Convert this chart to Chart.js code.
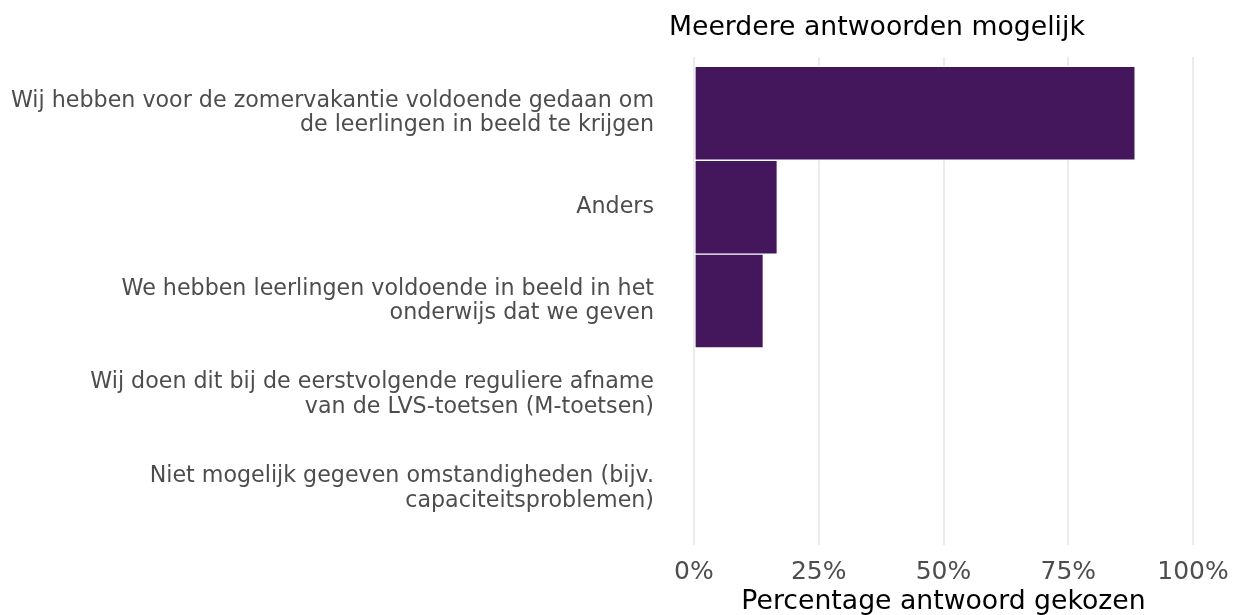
<!DOCTYPE html>
<html>
<head>
<meta charset="utf-8">
<script src="https://cdn.jsdelivr.net/npm/chart.js@4.4.1/dist/chart.umd.min.js"></script>
<style>
  html, body { margin: 0; padding: 0; background: #ffffff; }
  #wrap { width: 1241px; height: 615px; }
</style>
</head>
<body>
<div id="wrap"><canvas id="chart" width="1241" height="615"></canvas></div>
<script>
// --------- Données ----------
const categories = [
    ["Wij hebben voor de zomervakantie voldoende gedaan om", "de leerlingen in beeld te krijgen"],
    ["Anders"],
    ["We hebben leerlingen voldoende in beeld in het", "onderwijs dat we geven"],
    ["Wij doen dit bij de eerstvolgende reguliere afname", "van de LVS-toetsen (M-toetsen)"],
    ["Niet mogelijk gegeven omstandigheden (bijv.", "capaciteitsproblemen)"]
];
const percentages = [88.4, 16.7, 13.9, 0, 0];
const xTicks = [0, 25, 50, 75, 100];

const FONT = "'DejaVu Sans', Verdana, sans-serif";

// bars placed on a linear index axis so the ggplot-like 0.6 padding can be reproduced
const points = percentages.map((v, i) => ({ x: v, y: i }));

const ctx = document.getElementById("chart").getContext("2d");

new Chart(ctx, {
    type: "bar",
    data: {
        datasets: [{
            data: points,
            backgroundColor: "#44165c",
            borderColor: "#ffffff",
            borderWidth: 1,
            borderSkipped: false,
            barPercentage: 1,
            categoryPercentage: 1
        }]
    },
    options: {
        indexAxis: "y",
        responsive: false,
        animation: false,
        layout: { padding: { top: 4, right: 23, bottom: 0, left: 0 } },
        plugins: {
            legend: { display: false },
            tooltip: { enabled: false },
            title: {
                display: true,
                text: "Meerdere antwoorden mogelijk",
                align: "start",
                fullSize: false,
                color: "#000000",
                font: { family: FONT, size: 26.7, weight: "normal", lineHeight: 1.2 },
                padding: { top: 8, bottom: 13 }
            }
        },
        scales: {
            x: {
                type: "linear",
                min: -5,
                max: 105,
                afterBuildTicks: axis => { axis.ticks = xTicks.map(v => ({ value: v })); },
                afterFit: axis => {
                    axis.height = 70;
                    axis.paddingLeft = 0;
                    axis.paddingRight = 0;
                },
                grid: { color: "#ebebeb", lineWidth: 2, drawTicks: false },
                border: { display: false },
                ticks: {
                    color: "#4d4d4d",
                    font: { family: FONT, size: 25, lineHeight: 1.0 },
                    padding: 15,
                    maxRotation: 0,
                    callback: v => v + "%"
                },
                title: {
                    display: true,
                    text: "Percentage antwoord gekozen",
                    color: "#000000",
                    font: { family: FONT, size: 26.7, lineHeight: 1.2 },
                    padding: { top: 3, bottom: -3 }
                }
            },
            y: {
                type: "linear",
                reverse: true,
                offset: false,
                min: -0.6,
                max: 4.6,
                afterBuildTicks: axis => { axis.ticks = categories.map((c, i) => ({ value: i })); },
                afterFit: axis => { axis.width = 669; },
                grid: { display: false, drawTicks: false, offset: false },
                border: { display: false },
                ticks: {
                    color: "#4d4d4d",
                    font: { family: FONT, size: 22.2, lineHeight: 1.1 },
                    padding: 15,
                    autoSkip: false,
                    callback: v => categories[v]
                }
            }
        }
    }
});
</script>
</body>
</html>
